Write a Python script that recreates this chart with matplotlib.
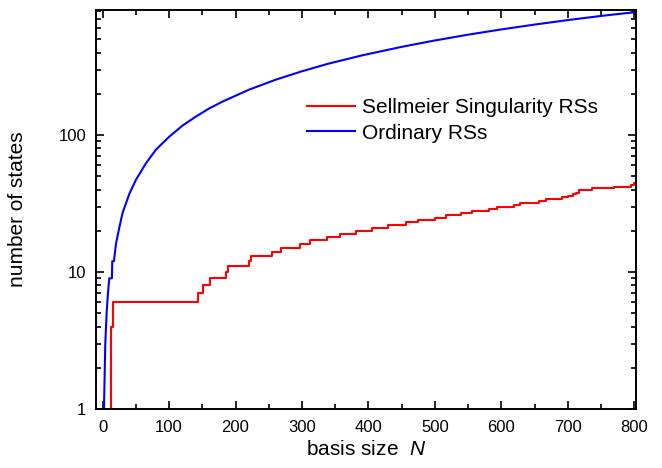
"""Number of resonant states vs basis size N (log scale)."""
import matplotlib
matplotlib.use("Agg")
import matplotlib.pyplot as plt
from matplotlib.ticker import MultipleLocator, LogLocator, NullFormatter, FixedFormatter, FixedLocator

plt.rcParams["font.family"] = ["Liberation Sans", "DejaVu Sans"]
plt.rcParams["mathtext.fontset"] = "custom"
plt.rcParams["mathtext.it"] = "Liberation Sans:italic"
plt.rcParams["mathtext.rm"] = "Liberation Sans"

# Ordinary RSs
BLUE_N = [2, 4, 6, 8, 10, 14, 14.5, 17, 20, 25, 30, 40, 50, 65, 80, 100, 120,
          140, 160, 180, 220, 260, 300, 340, 391, 450, 497, 550, 597, 650, 698,
          750, 803]
BLUE_CNT = [1, 3, 5, 7, 9, 9, 12, 12, 16, 21, 27, 37, 47, 62, 78, 97, 117,
            136, 156, 175, 214, 253, 292, 332, 382, 440, 487, 540, 587, 640,
            688, 740, 790]

# Sellmeier singularity RSs: staircase, value holds until the next N
RED_N = [11, 12, 16, 143, 151, 161, 185, 189, 220, 224, 255, 268, 297, 312,
         338, 357, 382, 406, 429, 456, 474, 500, 517, 539, 556, 581, 594, 619,
         628, 657, 667, 691, 701, 708, 713, 717, 737, 769, 795, 799, 803]
RED_CNT = [1, 4, 6, 7, 8, 9, 10, 11, 12, 13, 14, 15, 16, 17, 18, 19, 20, 21,
           22, 23, 24, 25, 26, 27, 28, 29, 30, 31, 32, 33, 34, 35, 36, 37, 38,
           40, 41, 42, 43, 45, 47]

X_TICKS = [0, 100, 200, 300, 400, 500, 600, 700, 800]
Y_TICKS = [1, 10, 100]
Y_LABELS = ["1", "10", "100"]

fig = plt.figure(figsize=(6.62, 4.68), dpi=100)
ax = fig.add_axes([0.145, 0.126, 0.816, 0.853])

ax.plot(RED_N, RED_CNT, color="#FF0000", lw=1.5, drawstyle="steps-post",
        label="Sellmeier Singularity RSs")
ax.plot(BLUE_N, BLUE_CNT, color="#0000FF", lw=1.5, label="Ordinary RSs")

ax.set_yscale("log")
ax.set_xlim(-10, 803)
ax.set_ylim(1, 820)

ax.xaxis.set_major_locator(FixedLocator(X_TICKS))
ax.xaxis.set_minor_locator(MultipleLocator(50))
ax.yaxis.set_major_locator(FixedLocator(Y_TICKS))
ax.yaxis.set_major_formatter(FixedFormatter(Y_LABELS))
ax.yaxis.set_minor_locator(LogLocator(base=10, subs=range(2, 10)))
ax.yaxis.set_minor_formatter(NullFormatter())

ax.tick_params(which="both", direction="in", top=True, right=True,
               width=1.2, labelsize=12)
ax.tick_params(axis="x", pad=8)
ax.tick_params(axis="y", pad=7)
ax.tick_params(which="major", length=6)
ax.tick_params(which="minor", length=3.5)
for s in ax.spines.values():
    s.set_linewidth(1.4)

ax.set_xlabel("basis size  $N$", fontsize=15)
ax.set_ylabel("number of states", fontsize=15)
ax.xaxis.set_label_coords(0.5, -0.078)
ax.yaxis.set_label_coords(-0.127, 0.5)

ax.legend(loc="upper left", bbox_to_anchor=(0.355, 0.825), frameon=False,
          fontsize=15, handlelength=2.35, handletextpad=0.3, labelspacing=0.3)

fig.savefig("out.png", dpi=100)
